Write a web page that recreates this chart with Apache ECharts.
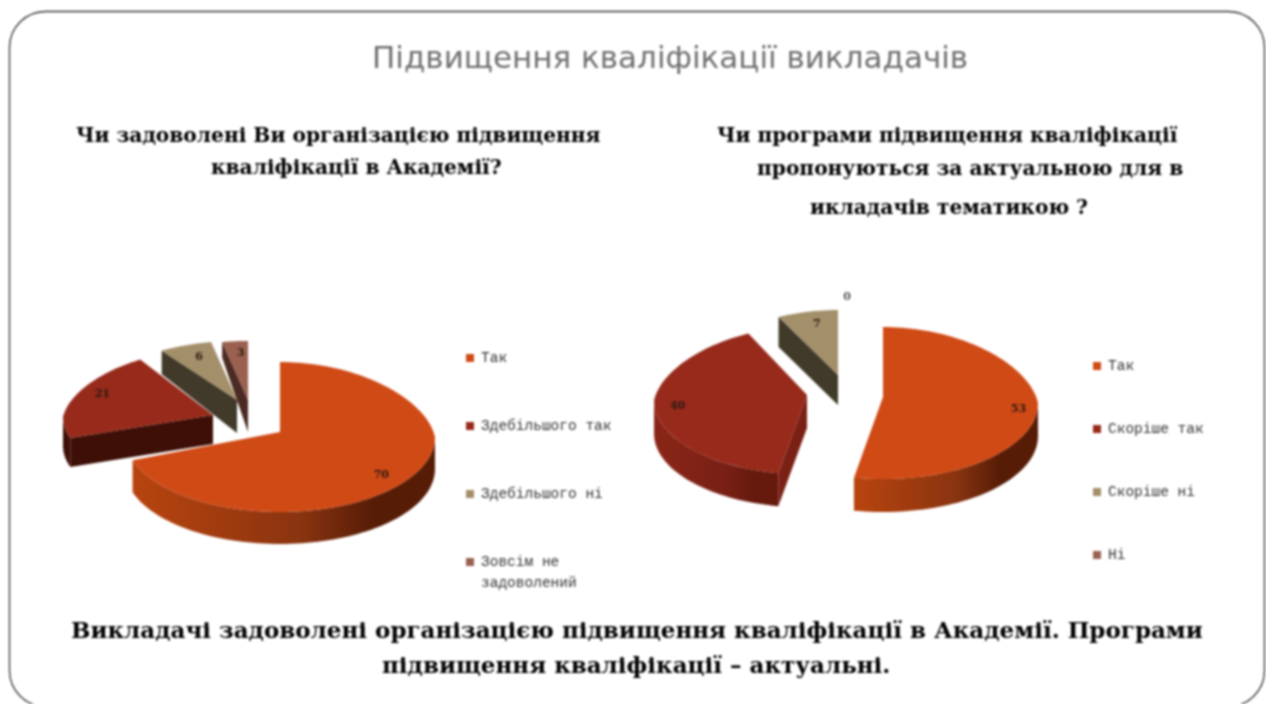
<!DOCTYPE html>
<html><head><meta charset="utf-8">
<script src="https://cdn.jsdelivr.net/npm/echarts@6/dist/echarts.min.js"></script>
<style>html,body{margin:0;padding:0;background:#fff}#c{width:1266px;height:704px;filter:blur(0.9px)}</style>
</head><body><div id="c"></div>
<script>
const leftNames = ['Так','Здебільшого так','Здебільшого ні','Зовсім не задоволений'];
const leftValues = [70,21,6,3];
const rightNames = ['Так','Скоріше так','Скоріше ні','Ні'];
const rightValues = [53,40,7,0];
const topColors = ['#d04a16','#972a1b','#a38f6a','#9a6150'];
const rimStopsOrange = ['#b8440f','#8a3410','#561c06'];
const rimStopsRed = ['#8a2618','#7a2015','#661a0e'];
const rimStopsDark = ['#3e0f07','#3e0f07','#3e0f07'];
const faceLeft = ['#3e0f07','#3e0f07','#413a2a','#4a2a22'];
const faceRight = ['#3e0f07','#7a2015','#413a2a','#4a2a22'];
// layout of the exploded slices: tip of each wedge, ellipse centre offset, radii, thickness, label nudges
const leftGeo = {apex:[[280,432],[213,415],[237,400],[248,400]],off:[5,2,3,3],rx:[155,150,155,155],ry:[75,68,62,62],depth:[32,29,33,32],backDepth:[32,29,22,15],nudge:[[1,5],[-2,-2],[3,2],[3,2]]};
const rightGeo = {apex:[[883,397],[807,395],[838,375],[846,365]],off:[6,5.5,8.7,8],rx:[155,153,155,155],ry:[76,74,73.7,73],depth:[33,33,30,30],backDepth:[33,33,30,30],nudge:[[12,2],[-8,0],[3,0],[1,-15]]};
const PERSP = 0.11;

function sliceSeries(name, i, values, geo, rimStops, faces, z){
  const total = values.reduce((a,b)=>a+b,0);
  const a0 = values.slice(0,i).reduce((a,b)=>a+b,0)/total*360;
  return {
    type:'custom', name, coordinateSystem:'none', silent:true, animation:false, z,
    itemStyle:{color:topColors[i]}, data:[[values[i]]],
    renderItem(params, api){
      const a1 = a0 + api.value(0)/total*360;
      const [ax,ay] = geo.apex[i], cy = ay+geo.off[i], ry = geo.ry[i], RX = geo.rx[i];
      const D = geo.depth[i], Db = geo.backDepth[i];
      const rad = d=>d*Math.PI/180;
      const pt = d=>{const s=Math.sin(rad(d)),c=Math.cos(rad(d));
        return [ax+RX*s*(c>0?1-PERSP*c:1), cy-ry*c];};
      const dep = d=>{const c=Math.cos(rad(d)); return c>0? D-(D-Db)*c : D;};
      const arc = (from,to)=>{const p=[];const n=Math.max(1,Math.ceil((to-from)/2));
        for(let k=0;k<=n;k++)p.push(from+(to-from)*k/n);return p;};
      const children=[];
      if(a1>a0){
        const r0=Math.max(a0,90), r1=Math.min(a1,270);
        if(r1>r0){
          const ds=arc(r0,r1);
          const up=ds.map(pt), low=ds.map(d=>{const p=pt(d);return [p[0],p[1]+dep(d)];}).reverse();
          children.push({type:'polygon',shape:{points:up.concat(low)},style:{fill:{type:'linear',x:0,y:0,x2:1,y2:0,
            colorStops:[{offset:0,color:rimStops[0]},{offset:.55,color:rimStops[1]},{offset:.8,color:rimStops[2]},{offset:1,color:rimStops[2]}]}}});
        }
        const faceAt=(d)=>{const p=pt(d);return [[ax,ay],p,[p[0],p[1]+dep(d)],[ax,ay+D]];};
        if(Math.sin(rad(a0))<0) children.push({type:'polygon',shape:{points:faceAt(a0)},style:{fill:faces[i]}});
        if(Math.sin(rad(a1))>0.01) children.push({type:'polygon',shape:{points:faceAt(a1)},style:{fill:faces[i]}});
        const ds=arc(a0,a1);
        children.push({type:'polygon',shape:{points:[[ax,ay]].concat(ds.map(pt))},style:{fill:topColors[i]}});
      }
      const mid=(a0+a1)/2, p=pt(mid), nd=geo.nudge[i];
      children.push({type:'text',style:{text:String(api.value(0)),x:ax+(p[0]-ax)*0.8+nd[0],y:cy+(p[1]-cy)*0.8-2+nd[1],
        align:'center',verticalAlign:'middle',font:'bold 11px "DejaVu Serif"',fill:api.value(0)===0?'#555':'#2a1a12'}});
      return {type:'group',children};
    }
  };
}
const series=[];
leftNames.forEach((n,i)=>series.push(sliceSeries(n,i,leftValues,leftGeo,i===0?rimStopsOrange:rimStopsDark,faceLeft,[6,5,3,2][i])));
rightNames.forEach((n,i)=>series.push(sliceSeries(n,i,rightValues,rightGeo,i===0?rimStopsOrange:rimStopsRed,faceRight,[6,5,3,2][i])));

const Q='"DejaVu Serif"';
const line=(text,left,top,size)=>({text,left,top,padding:0,textStyle:{fontFamily:Q,fontWeight:'bold',fontSize:size,color:'#000'}});
const LEGEND_FONT={fontFamily:'"Liberation Mono"',fontWeight:'normal',fontSize:14.5,color:'#333',lineHeight:18};
const legendBase={orient:'vertical',padding:0,itemWidth:8,itemHeight:8,icon:'rect',selectedMode:false,textStyle:Object.assign({padding:[0,0,0,2]},LEGEND_FONT)};
const chart=echarts.init(document.getElementById('c'));
chart.setOption({
  backgroundColor:'#fff',
  title:[
    {text:'Підвищення кваліфікації викладачів',left:372,top:44,padding:0,textStyle:{fontFamily:'"DejaVu Sans"',fontWeight:'normal',fontSize:31,color:'#707070'}},
    line('Чи задоволені Ви організацією підвищення',76,127,20.2),
    line('кваліфікації в Академії?',211,159,20.2),
    line('Чи програми підвищення кваліфікації',717,127,20.2),
    line('пропонуються за актуальною для в',757,160,20.2),
    line('икладачів тематикою ?',810,199,20.2),
    line('Викладачі задоволені організацією підвищення кваліфікації в Академії. Програми',71,621,23),
    line('підвищення кваліфікації – актуальні.',382,656,23),
    {text:'задоволений',left:481,top:574,padding:0,textStyle:LEGEND_FONT}
  ],
  graphic:[{type:'rect',shape:{x:9.5,y:11.5,width:1255,height:695,r:36},style:{fill:'none',stroke:'#333',lineWidth:1.3},silent:true}],
  legend:[
    Object.assign({},legendBase,{left:466,top:349,itemGap:50,data:leftNames,
      formatter:n=>n.replace(' задоволений','')}),
    Object.assign({},legendBase,{left:1093,top:357,itemGap:45,data:rightNames})
  ],
  series
});
</script></body></html>
